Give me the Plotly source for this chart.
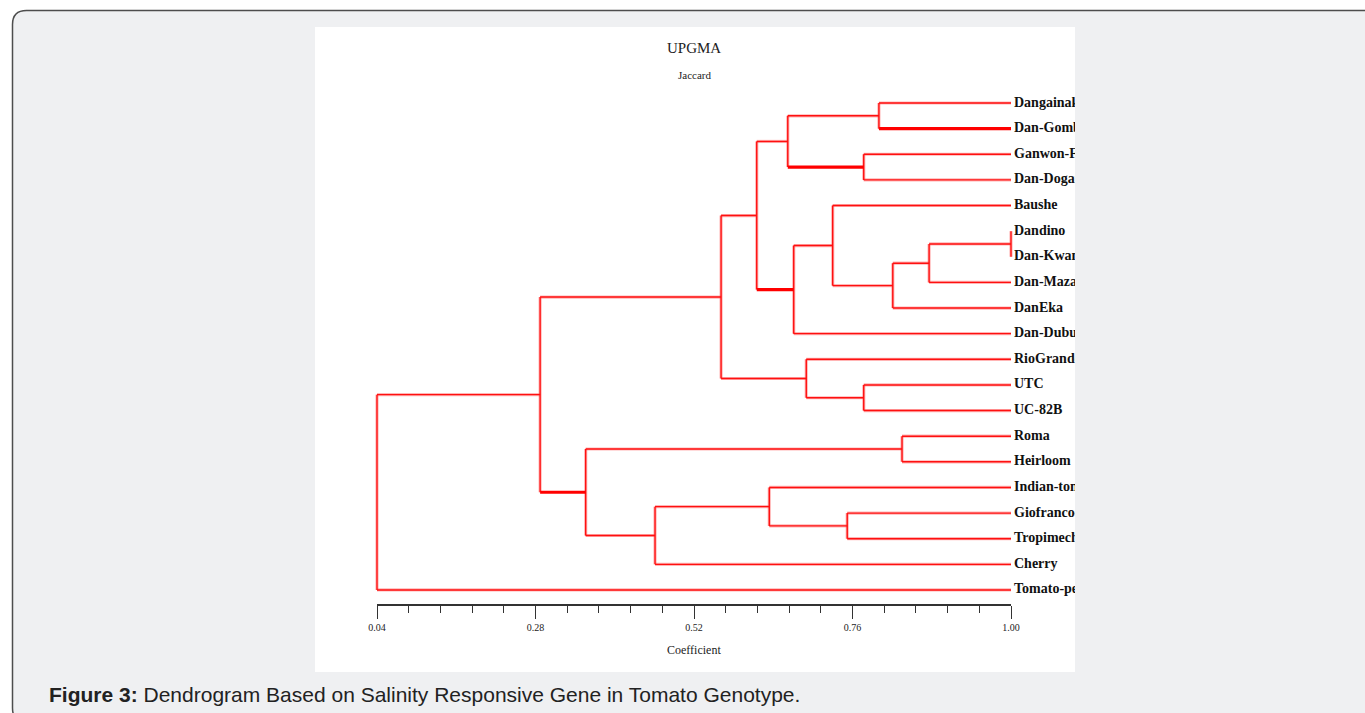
import plotly.graph_objects as go

# ---------------- data ----------------
leaves = ["Dangainaka", "Dan-Gombe", "Ganwon-Fara", "Dan-Dogara", "Baushe",
          "Dandino", "Dan-Kwando", "Dan-Mazari", "DanEka", "Dan-Dubuku",
          "RioGrande", "UTC", "UC-82B", "Roma", "Heirloom",
          "Indian-tomato", "Giofranco-F1", "Tropimech", "Cherry", "Tomato-petomech"]

# UPGMA merges (cluster ids continue after the leaves: 20, 21, ...)
merge_a = [5, 20, 21, 4, 23, 0, 2, 25, 27, 11, 10, 28, 13, 16, 15, 34, 32, 31, 37]
merge_b = [6, 7, 8, 22, 9, 1, 3, 26, 24, 12, 29, 30, 14, 17, 33, 18, 35, 36, 19]
merge_coef = [1.000, 0.876, 0.821, 0.730, 0.671, 0.800, 0.777, 0.662, 0.615,
              0.777, 0.690, 0.561, 0.835, 0.752, 0.634, 0.461, 0.356, 0.287, 0.040]

# emphasised (thicker) links: (cluster id, child id)
bold_links = [(25, 1), (27, 26), (28, 24), (37, 36)]

tick_values = [0.04, 0.28, 0.52, 0.76, 1.00]
tick_labels = ["0.04", "0.28", "0.52", "0.76", "1.00"]
x_min, x_max = 0.04, 1.00

# ---------------- layout geometry ----------------
W, H = 1365, 713
ML, MR, MT, MB = 315, 290, 27, 41
PW, PH = W - ML - MR, H - MT - MB
ax_px0, ax_px1 = 377, 1011          # axis extent in pixels
axis_line_py = 604
leaf_top_py, leaf_step_py = 103, 25.63
label_gap_px = 3

d0 = (ax_px0 - ML) / PW
d1 = (ax_px1 - ML) / PW
span = (x_max - x_min) / (d1 - d0)
x_range = [x_min - d0 * span, x_max + (1 - d1) * span]
units_per_px = (x_max - x_min) / (ax_px1 - ax_px0)
n = len(leaves)
y_top = -(leaf_top_py - MT) / leaf_step_py
y_bot = (n - 1) + (H - MB - (leaf_top_py + (n - 1) * leaf_step_py)) / leaf_step_py


def px(p):
    return (p - ML) / PW


def py(p):
    return (H - MB - p) / PH


# ---------------- dendrogram segments ----------------
pos_y = {i: float(i) for i in range(n)}
pos_x = {i: x_max for i in range(n)}
lx, ly, bx, by = [], [], [], []
bold_set = set(bold_links)
for k, (a, b, h) in enumerate(zip(merge_a, merge_b, merge_coef)):
    cid = n + k
    ya, yb = pos_y[a], pos_y[b]
    for child, yc in ((a, ya), (b, yb)):
        if (cid, child) in bold_set:
            bx += [pos_x[child], h, None]
            by += [yc, yc, None]
        else:
            lx += [pos_x[child], h, None]
            ly += [yc, yc, None]
    lx += [h, h, None]
    ly += [ya, yb, None]
    pos_y[cid] = (ya + yb) / 2
    pos_x[cid] = h

fig = go.Figure()
fig.add_trace(go.Scatter(x=lx, y=ly, mode="lines",
                         line=dict(color="rgba(255,90,90,0.45)", width=3.2),
                         hoverinfo="skip", showlegend=False))
fig.add_trace(go.Scatter(x=lx, y=ly, mode="lines",
                         line=dict(color="#ff1010", width=1.4), hoverinfo="skip",
                         showlegend=False))
fig.add_trace(go.Scatter(x=bx, y=by, mode="lines",
                         line=dict(color="#ff0000", width=3.2), hoverinfo="skip",
                         showlegend=False))
fig.add_trace(go.Scatter(x=[x_max + label_gap_px * units_per_px] * n, y=list(range(n)),
                         mode="text",
                         text=["<b>%s</b>" % s for s in leaves],
                         textposition="middle right",
                         textfont=dict(family="Liberation Serif", size=14,
                                       color="#111111"),
                         cliponaxis=True, hoverinfo="skip", showlegend=False))
# axis carrier (empty)
fig.add_trace(go.Scatter(x=[], y=[], xaxis="x2", yaxis="y2", showlegend=False))

# ---------------- background shapes ----------------
r = 14
bx0, by0, bx1, by1 = 12.5, 10.5, 1385, 722
path = (f"M {px(bx0)},{py(by0 + r)} "
        f"Q {px(bx0)},{py(by0)} {px(bx0 + r)},{py(by0)} "
        f"L {px(bx1 - r)},{py(by0)} "
        f"Q {px(bx1)},{py(by0)} {px(bx1)},{py(by0 + r)} "
        f"L {px(bx1)},{py(by1 - r)} "
        f"Q {px(bx1)},{py(by1)} {px(bx1 - r)},{py(by1)} "
        f"L {px(bx0 + r)},{py(by1)} "
        f"Q {px(bx0)},{py(by1)} {px(bx0)},{py(by1 - r)} Z")
shapes = [
    dict(type="path", xref="paper", yref="paper", path=path,
         fillcolor="#eff0f2", line=dict(color="#4d4d4d", width=1.5), layer="below"),
    dict(type="rect", xref="paper", yref="paper", x0=0, x1=1, y0=0, y1=1,
         fillcolor="#ffffff", line=dict(width=0), layer="below"),
]

serif = "Liberation Serif"
annotations = [
    dict(text="UPGMA", xref="x2", x=0.52, yref="paper", y=py(48), showarrow=False,
         xanchor="center", yanchor="middle", font=dict(family=serif, size=15, color="#222")),
    dict(text="Jaccard", xref="x2", x=0.52, yref="paper", y=py(75), showarrow=False,
         xanchor="center", yanchor="middle", font=dict(family=serif, size=11, color="#222")),
    dict(text="Coefficient", xref="x2", x=0.52, yref="paper", y=py(650), showarrow=False,
         xanchor="center", yanchor="middle", font=dict(family=serif, size=12, color="#222")),
    dict(text="<b>Figure 3:</b> Dendrogram Based on Salinity Responsive Gene in Tomato Genotype.",
         xref="paper", x=px(47), yref="paper", y=py(694), showarrow=False,
         xanchor="left", yanchor="middle",
         font=dict(family="Liberation Sans", size=21, color="#222222")),
]

fig.update_layout(
    width=W, height=H,
    margin=dict(l=ML, r=MR, t=MT, b=MB, pad=0),
    paper_bgcolor="#ffffff", plot_bgcolor="rgba(0,0,0,0)",
    shapes=shapes, annotations=annotations,
    xaxis=dict(range=x_range, visible=False, domain=[0, 1], fixedrange=True),
    yaxis=dict(range=[y_bot, y_top], visible=False, domain=[0, 1], fixedrange=True),
    xaxis2=dict(domain=[d0, d1], anchor="y2", range=[x_min, x_max],
                showline=True, linecolor="#333333", linewidth=1.5,
                ticks="outside", ticklen=13, tickwidth=1.3, tickcolor="#333333",
                tickvals=tick_values, ticktext=tick_labels, showgrid=False,
                zeroline=False, ticklabelstandoff=0,
                tickfont=dict(family=serif, size=10, color="#222"),
                minor=dict(ticks="outside", ticklen=7, tick0=x_min, dtick=0.048,
                           tickcolor="#333333", tickwidth=1.3, showgrid=False),
                fixedrange=True),
    yaxis2=dict(domain=[py(axis_line_py), py(axis_line_py) + 0.05], anchor="x2",
                visible=False, range=[0, 1], fixedrange=True),
    showlegend=False,
)

fig.write_html("out.html", config={"displayModeBar": False},
               post_script="document.body.style.margin='0';document.body.style.overflow='hidden';")
